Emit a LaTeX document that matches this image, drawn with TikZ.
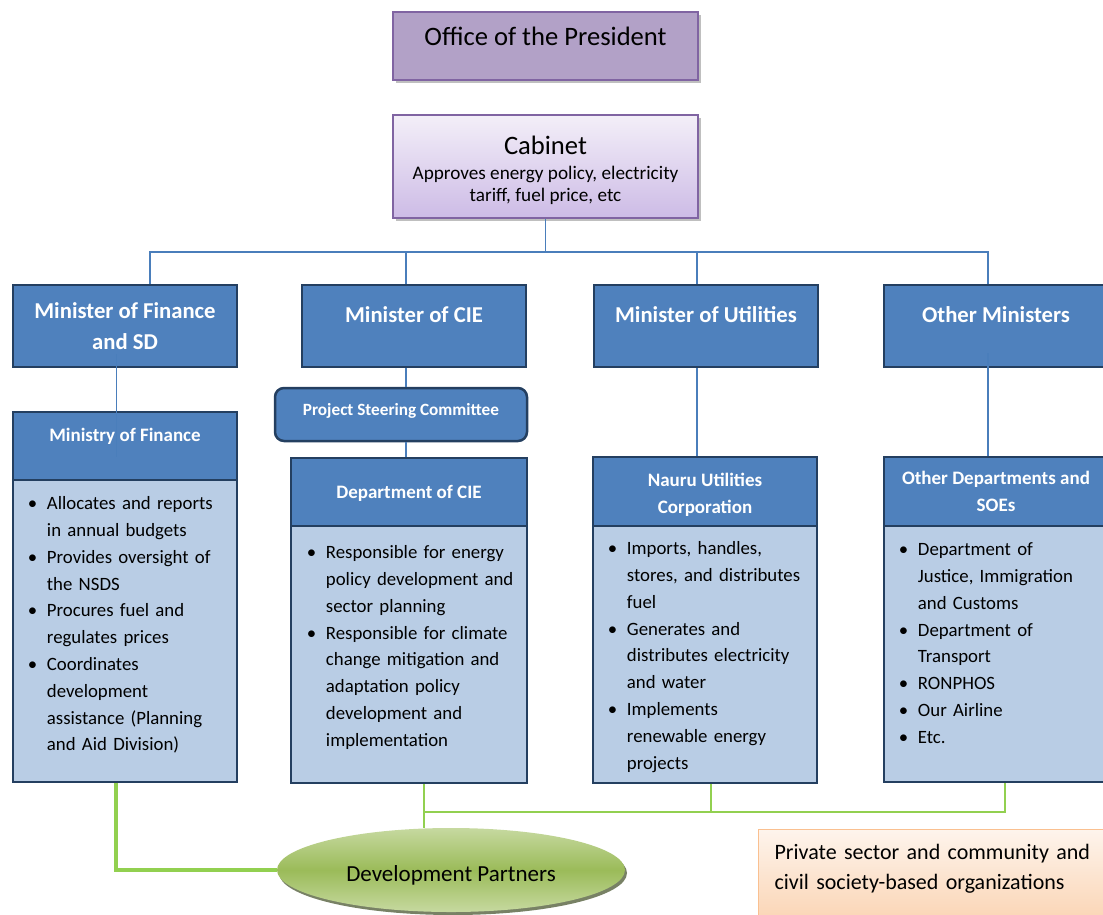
\documentclass[tikz,border=0pt]{standalone}
\usepackage{fontspec}
\setmainfont{Carlito}
\usetikzlibrary{positioning,shapes.geometric,shadows}

\definecolor{presfill}{HTML}{B2A1C7}
\definecolor{presline}{HTML}{8064A2}
\definecolor{cabtop}{HTML}{F3EFF8}
\definecolor{cabbot}{HTML}{CDBBE6}
\definecolor{minfill}{HTML}{4F81BD}
\definecolor{minline}{HTML}{243F60}
\definecolor{linkblue}{HTML}{4A7EBB}
\definecolor{bodyfill}{HTML}{B9CDE5}
\definecolor{greenline}{HTML}{92D050}
\definecolor{dplight}{HTML}{C6D9A0}
\definecolor{dpdark}{HTML}{9BBB59}
\definecolor{pstop}{HTML}{FEF4EC}
\definecolor{psbot}{HTML}{FAD2B0}
\definecolor{psline}{HTML}{FAC090}

% bullet line with hanging indent
\newcommand{\bitem}{\par\noindent\hangindent=19pt\hangafter=1\strut\makebox[19pt][l]{\textbullet}}

\begin{document}
\begin{tikzpicture}[
      x=1pt, y=-1pt,
      presbox/.style={draw=presline, fill=presfill, line width=1.5pt,
                      minimum width=305pt, minimum height=68pt,
                      font=\fontsize{26.6}{30}\selectfont, text height=20pt, text depth=21pt,
                      drop shadow={shadow xshift=3pt, shadow yshift=-3pt, fill=black!50, opacity=.5}},
      cabbox/.style={draw=presline, top color=cabtop, bottom color=cabbot, line width=1.5pt,
                     minimum width=305pt, minimum height=103pt, align=center,
                     font=\fontsize{19.2}{22}\selectfont,
                     drop shadow={shadow xshift=3pt, shadow yshift=-3pt, fill=black!50, opacity=.5}},
      mincard/.style={draw=minline, fill=minfill, line width=2.5pt,
                      minimum width=224pt, minimum height=82pt, align=center,
                      text=white, font=\bfseries\fontsize{22.7}{31}\selectfont},
      hdr/.style={draw=minline, fill=minfill, line width=2.5pt,
                  minimum width=224pt, minimum height=69pt, align=center,
                  text=white, font=\bfseries\fontsize{19}{27}\selectfont},
      bodybox/.style={draw=minline, fill=bodyfill, line width=2.5pt, minimum width=224pt},
      psc/.style={draw=minline, fill=minfill, line width=2.5pt, rounded corners=9pt,
                  minimum width=252pt, minimum height=53pt, text height=14pt, text depth=12pt,
                  text=white, font=\bfseries\fontsize{17.2}{20}\selectfont},
      oneline/.style 2 args={text height=#1, text depth=#2},
      items/.style={inner sep=0pt, text width=#1, align=left,
                    font=\fontsize{18.8}{26.8}\selectfont},
      dpart/.style={ellipse, minimum width=348pt, minimum height=84pt,
                    top color=dplight, bottom color=dplight, middle color=dpdark,
                    font=\fontsize{23}{26}\selectfont, text height=28pt, text depth=5pt,
                    drop shadow={shadow xshift=2pt, shadow yshift=-3pt, fill=black!60!dpdark, opacity=.7}},
      privbox/.style={draw=psline, top color=pstop, bottom color=psbot, line width=1.2pt,
                      anchor=north west, text width=330pt, inner xsep=16pt, inner ysep=9pt,
                      align=left, text depth=60pt, font=\fontsize{22}{30}\selectfont},
      link/.style={draw=linkblue, line width=1.2pt},
      glink/.style={draw=greenline, line width=1.6pt},
      gthick/.style={draw=greenline, line width=3.2pt}
  ]
      \useasboundingbox (0,0) rectangle (1103,914);

      % Top level
      \node[presbox] (pres) at (545.5,46) {Office of the President};
      \node[cabbox] (cab) at (545.5,166.5) {{\fontsize{26.6}{30}\selectfont\rule{0pt}{26pt}Cabinet}\\[3pt]
          Approves energy policy, electricity\\ tariff, fuel price, etc};

      % Ministers
      \node[mincard] (fin) at (125,326) {Minister of Finance\\and SD};
      \node[mincard, oneline={17pt}{24pt}] (cie) at (414,326) {Minister of CIE};
      \node[mincard, oneline={17pt}{24pt}] (util) at (706,326) {Minister of Utilities};
      \node[mincard, oneline={17pt}{24pt}] (oth) at (996,326) {Other Ministers};

      \coordinate (bus) at (545.5,252);
      \draw[link] (cab.south) -- (bus);
      \draw[link] (bus) -| ([xshift=25pt]fin.north);
      \draw[link] (bus) -| ([xshift=-8pt]cie.north);
      \draw[link] (bus) -| ([xshift=-9pt]util.north);
      \draw[link] (bus) -| ([xshift=-8pt]oth.north);

      % Ministry of Finance
      \node[hdr, minimum height=68pt, oneline={14pt}{24pt}] (mofh) at (125,446) {Ministry of Finance};
      \node[bodybox, minimum height=302pt] (mofb) at (125,631) {};
      \node[items=200pt, below right=4pt and 16pt of mofb.north west] (moft) {
          \bitem Allocates and reports\newline in annual budgets
          \bitem Provides oversight of\newline the NSDS
          \bitem Procures fuel and\newline regulates prices
          \bitem Coordinates\newline development\newline assistance (Planning\newline and Aid Division)\par
      };
      \draw[link] ([xshift=-8.5pt, yshift=14pt]fin.south) -- ([xshift=-8.5pt, yshift=-46pt]mofh.north);

      % Department of CIE
      \node[psc] (steer) at (401,414.5) {Project Steering Committee};
      \node[hdr, minimum width=236pt, minimum height=68pt, oneline={16pt}{4pt}] (cieh) at (409,492) {Department of CIE};
      \node[bodybox, minimum width=236pt, minimum height=257pt] (cieb) at (409,654.5) {};
      \node[items=216pt, below right=7pt and 17pt of cieb.north west] (ciet) {
          \bitem Responsible for energy\newline policy development and\newline sector planning
          \bitem Responsible for climate\newline change mitigation and\newline adaptation policy\newline development and\newline implementation\par
      };
      \draw[link] ([xshift=-8pt]cie.south) -- ([xshift=5pt]steer.north);
      \draw[link] ([xshift=5pt]steer.south) -- ([xshift=-3pt]cieh.north);

      % Nauru Utilities Corporation
      \node[hdr] (nuch) at (705,491.5) {\rule{0pt}{19pt}Nauru Utilities\\Corporation};
      \node[bodybox, minimum height=257pt] (nucb) at (705,654.5) {};
      \node[items=200pt, below right=3pt and 16pt of nucb.north west] (nuct) {
          \bitem Imports, handles,\newline stores, and distributes\newline fuel
          \bitem Generates and\newline distributes electricity\newline and water
          \bitem Implements\newline renewable energy\newline projects\par
      };
      \draw[link] ([xshift=-9pt]util.south) -- ([xshift=-8pt]nuch.north);

      % Other departments
      \node[hdr] (othh) at (996,491.5) {Other Departments and\\SOEs};
      \node[bodybox, minimum height=256pt] (othb) at (996,654) {};
      \node[items=195pt, below right=4pt and 16pt of othb.north west] (otht) {
          \bitem Department of\newline Justice, Immigration\newline and Customs
          \bitem Department of\newline Transport
          \bitem RONPHOS
          \bitem Our Airline
          \bitem Etc.\par
      };
      \draw[link] ([xshift=-8pt, yshift=15pt]oth.south) -- ([xshift=-8pt]othh.north);

      % Partners
      \node[dpart] (dp) at (451,870) {Development Partners};
      \node[privbox] (priv) at (758,829) {\strut Private sector and community and\\civil society-based organizations};

      \coordinate (gl) at (424,812);
      \coordinate (gr) at (1005,812);
      \draw[gthick] ([xshift=-9pt]mofb.south) |- (dp.west);
      \draw[glink] ([xshift=15pt]cieb.south) -- ([xshift=15pt]cieb.south |- dp.north);
      \draw[glink] (gl) -- (gr) -- ([xshift=9pt]othb.south);
      \draw[glink] ([xshift=6pt]nucb.south) -- ([xshift=6pt]nucb.south |- gl);
  \end{tikzpicture}
\end{document}
